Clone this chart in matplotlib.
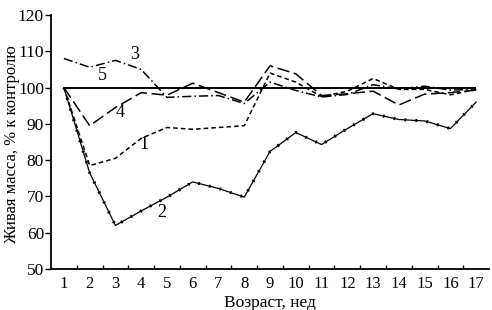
import numpy as np
import matplotlib.pyplot as plt

weeks = list(range(1, 18))
week_labels = [str(w) for w in weeks]

s1 = [100, 78.5, 80.5, 86, 89, 88.5, 89, 89.5, 104, 101.5, 97.5, 99, 102.5, 99.5, 99.5, 98, 99.5]
s2 = [100, 76.5, 62, 66, 69.8, 74, 72.2, 69.8, 82.4, 87.6, 84.3, 88.7, 92.8, 91.2, 90.8, 88.7, 96]
s3 = [108, 105.6, 107.5, 105, 97.3, 97.6, 97.8, 95.6, 101.5, 99.2, 97.4, 98.1, 100.8, 99.6, 100.4, 99.3, 99.5]
s4 = [100, 89.5, 94.5, 98.6, 97.9, 101.2, 98.6, 96, 106, 103.8, 97.8, 98.3, 99, 95.2, 98.2, 98.6, 99.3]
s5 = [100] * 17

plt.rcParams['font.family'] = ['Liberation Serif', 'DejaVu Serif']

fig = plt.figure(figsize=(4.92, 3.10), dpi=100)
ax = fig.add_axes([0.1037, 0.1323, 0.8903, 0.8193])

# series
ax.plot(weeks, s5, color='black', lw=1.4, solid_capstyle='butt')
ax.plot(weeks, s1, color='black', lw=1.1, linestyle=(0, (3, 2)))
ax.plot(weeks, s4, color='black', lw=1.1, linestyle=(0, (8, 3)))
ax.plot(weeks, s3, color='black', lw=1.1, linestyle=(0, (6, 2, 1, 2)))
ax.plot(weeks, s2, color='black', lw=0.9)
ax.plot(weeks, s2, color='black', lw=2.2, linestyle=(0, (0.6, 3)))

# curve numbers
for txt, x, y in [('3', 3.76, 109), ('5', 2.48, 103.2), ('4', 3.2, 93.2),
                  ('1', 4.1, 84.2), ('2', 4.8, 65.7)]:
    ax.text(x, y, txt, fontsize=13, ha='center', va='center')

ax.set_xlim(0.5, 17.5)
ax.set_ylim(50, 120)
ax.set_yticks(np.arange(50, 121, 10))
ax.set_xticks(weeks)
ax.set_xticklabels(week_labels)
ax.set_xticks(np.arange(1.5, 17.5, 1), minor=True)
ax.tick_params(axis='x', which='major', length=0, labelsize=12, pad=5)
ax.tick_params(axis='x', which='minor', direction='in', length=3, width=1)
ax.tick_params(axis='y', direction='out', length=4, width=1, labelsize=12.5, pad=1)

for side in ['top', 'right']:
    ax.spines[side].set_visible(False)
ax.spines['left'].set_linewidth(1.3)
ax.spines['bottom'].set_linewidth(1.3)

ax.set_xlabel('Возраст, нед', fontsize=12.5, labelpad=2)
ax.set_ylabel('Живая масса, % к контролю', fontsize=12)
ax.yaxis.set_label_coords(-0.07, 0.49)

fig.savefig('out.png', dpi=100)
